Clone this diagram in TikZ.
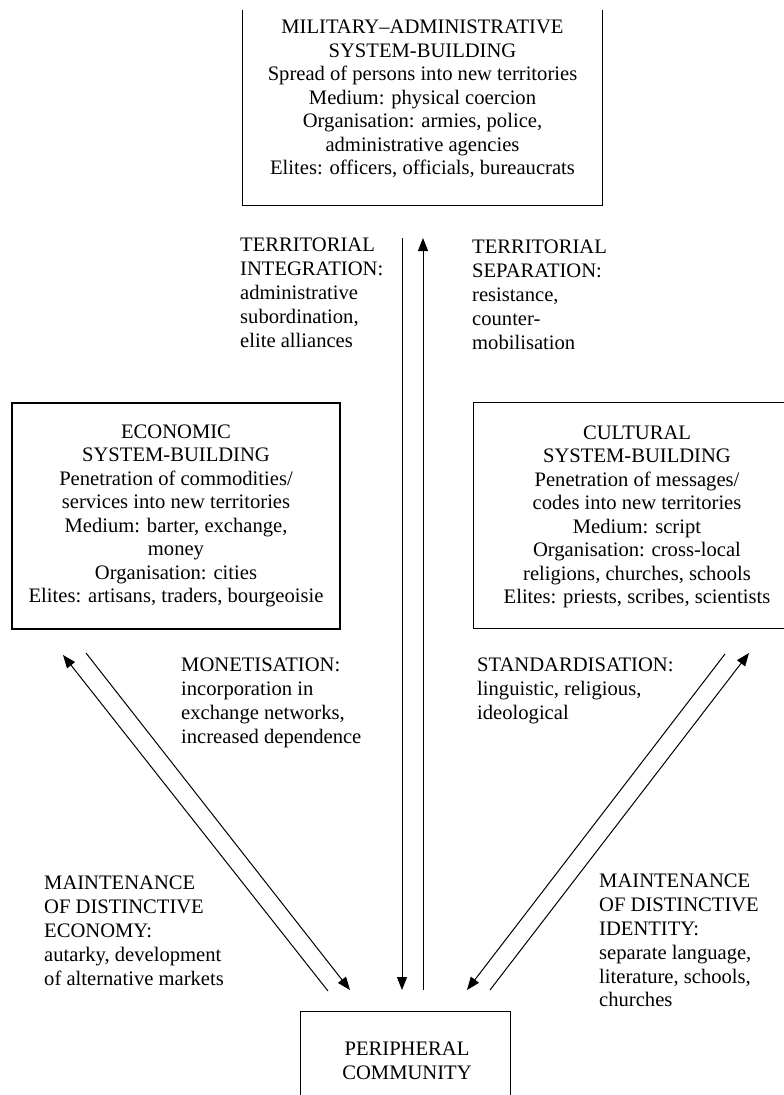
\documentclass[tikz,border=0pt]{standalone}
\usepackage{fontspec}
\setmainfont{Liberation Serif}
\usetikzlibrary{arrows.meta}
\begin{document}
\begin{tikzpicture}[x=1pt,y=-1pt,
  frame/.style={line width=1.1pt},
  boxtxt/.style={align=center, inner sep=0pt, font=\fontsize{20.6}{23.5}\selectfont},
  lbl/.style={align=left, anchor=north west, inner sep=0pt, font=\fontsize{20.6}{23.8}\selectfont},
  arr/.style={line width=1pt, -{Triangle[length=13pt,width=10pt]}}]
\useasboundingbox (0,0) rectangle (784,1095);
\fill[white] (0,0) rectangle (784,1095);

% top box (top edge cut off)
\node[minimum width=359pt, minimum height=195pt, inner sep=0pt] (milbox) at (422.5,107.5) {};
\draw[frame] (milbox.north west) -- (milbox.south west) -- (milbox.south east) -- (milbox.north east);
\node[boxtxt] (mil) at (422.5,99) {MILITARY–ADMINISTRATIVE\\SYSTEM-BUILDING\\Spread of persons into new territories\\Medium: physical coercion\\Organisation: armies, police,\\administrative agencies\\Elites: officers, officials, bureaucrats};

% economic box
\node[draw, frame, boxtxt, minimum width=328pt, minimum height=226pt] (eco) at (176,516) {ECONOMIC\\SYSTEM-BUILDING\\Penetration of commodities/\\services into new territories\\Medium: barter, exchange,\\money\\Organisation: cities\\Elites: artisans, traders, bourgeoisie};

% cultural box (right edge cut off)
\node[minimum width=310pt, minimum height=225pt, inner sep=0pt] (culbox) at (629,515.5) {};
\draw[frame] (culbox.north east) -- (culbox.north west) -- (culbox.south west) -- (culbox.south east);
\node[boxtxt] (cul) at (637,517) {CULTURAL\\SYSTEM-BUILDING\\Penetration of messages/\\codes into new territories\\Medium: script\\Organisation: cross-local\\religions, churches, schools\\Elites: priests, scribes, scientists};

% peripheral box (bottom edge cut off)
\node[minimum width=209pt, minimum height=83pt, inner sep=0pt] (peribox) at (405.5,1053.5) {};
\draw[frame] (peribox.south west) -- (peribox.north west) -- (peribox.north east) -- (peribox.south east);
\node[boxtxt] (peri) at (407,1061) {PERIPHERAL\\COMMUNITY};

% arrow end points
\coordinate (vdS) at (402,238);
\coordinate (vdE) at (402,990);
\coordinate (vuS) at (423,990);
\coordinate (vuE) at (423,238);
\coordinate (luS) at (328,991);
\coordinate (luE) at (63,655);
\coordinate (ldS) at (86,653);
\coordinate (ldE) at (350,990);
\coordinate (ruS) at (490,990);
\coordinate (ruE) at (749,653);
\coordinate (rdS) at (725,654);
\coordinate (rdE) at (467,990);

\draw[arr] (vdS) -- (vdE);
\draw[arr] (vuS) -- (vuE);
\draw[arr] (luS) -- (luE);
\draw[arr] (ldS) -- (ldE);
\draw[arr] (ruS) -- (ruE);
\draw[arr] (rdS) -- (rdE);

% labels
\node[lbl] (tint) at (240,238) {TERRITORIAL\\INTEGRATION:\\administrative\\subordination,\\elite alliances};
\node[lbl] (tsep) at (472,240) {TERRITORIAL\\SEPARATION:\\resistance,\\counter-\\mobilisation};
\node[lbl] (mon) at (181,658) {MONETISATION:\\incorporation in\\exchange networks,\\increased dependence};
\node[lbl] (std) at (477,658) {STANDARDISATION:\\linguistic, religious,\\ideological};
\node[lbl] (mde) at (44,876) {MAINTENANCE\\OF DISTINCTIVE\\ECONOMY:\\autarky, development\\of alternative markets};
\node[lbl] (mdi) at (599,874) {MAINTENANCE\\OF DISTINCTIVE\\IDENTITY:\\separate language,\\literature, schools,\\churches};
\end{tikzpicture}
\end{document}
